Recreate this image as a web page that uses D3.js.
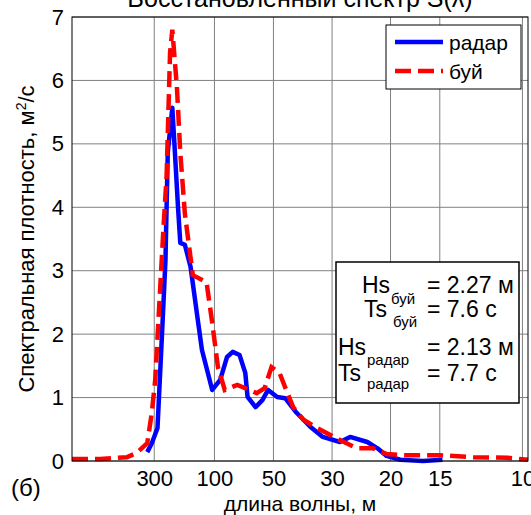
<!DOCTYPE html>
<html>
<head>
<meta charset="utf-8">
<script src="https://cdn.jsdelivr.net/npm/d3@7"></script>
<style>
  body { margin: 0; background: #fff; }
  text { font-family: "Liberation Sans", Arial, sans-serif; fill: #000; }
</style>
</head>
<body>
<div id="chart"></div>
<script>
// Данные (частота, Гц -> спектральная плотность)
const freqBuoy = [0, 0.025, 0.048, 0.057, 0.066, 0.070, 0.073, 0.080, 0.083, 0.086, 0.088, 0.092, 0.095, 0.099,
  0.106, 0.118, 0.123, 0.128, 0.134, 0.145, 0.162, 0.169, 0.175, 0.182, 0.189, 0.194, 0.203, 0.215,
  0.235, 0.250, 0.264, 0.276, 0.290, 0.323, 0.352, 0.382, 0.400];
const specBuoy = [0.03, 0.03, 0.06, 0.13, 0.28, 0.76, 1.28, 3.6, 4.5, 6.43, 6.8, 5.9, 4.86, 3.9,
  2.93, 2.82, 2.18, 1.48, 1.12, 1.2, 1.07, 1.15, 1.48, 1.39, 1.07, 0.85, 0.65, 0.52,
  0.33, 0.2, 0.2, 0.11, 0.09, 0.09, 0.06, 0.05, 0.02];

const freqRadar = [0.066, 0.070, 0.075, 0.079, 0.082, 0.084, 0.088, 0.090, 0.093, 0.095, 0.099, 0.104, 0.110,
  0.114, 0.123, 0.130, 0.136, 0.141, 0.147, 0.152, 0.154, 0.161, 0.167, 0.172, 0.180, 0.187, 0.197,
  0.209, 0.220, 0.235, 0.244, 0.259, 0.268, 0.276, 0.288, 0.308, 0.325];
const specRadar = [0.14, 0.28, 0.52, 2.02, 3.17, 4.86, 5.57, 4.95, 4.0, 3.44, 3.41, 3.06, 2.27,
  1.75, 1.12, 1.28, 1.64, 1.72, 1.67, 1.39, 1.01, 0.85, 0.96, 1.12, 1.01, 0.99, 0.76,
  0.54, 0.38, 0.30, 0.38, 0.30, 0.2, 0.08, 0.02, 0.0, 0.02];

// подписи оси X - длины волн, м
const waveTicks = [300, 100, 50, 30, 20, 15, 10];
const yTicks = [0, 1, 2, 3, 4, 5, 6, 7];

const seriesNames = ["радар", "буй"];
const statsBuoy = { hs: "= 2.27 м", ts: "= 7.6 с" };
const statsRadar = { hs: "= 2.13 м", ts: "= 7.7 с" };

// длина волны -> частота (глубокая вода)
const g = 9.81;
const lambdaToFreq = l => Math.sqrt(g / (2 * Math.PI * l));

const W = 531, H = 515;
const pLeft = 72, pRight = 528, pTop = 17, pBottom = 461;

const x = d3.scaleLinear().domain([0, 0.4]).range([pLeft, pRight]);
const y = d3.scaleLinear().domain([0, 7]).range([pBottom, pTop]);

const svg = d3.select("#chart").append("svg")
  .attr("width", W).attr("height", H);

// сетка
const grid = svg.append("g");
grid.selectAll(".gx").data(waveTicks).enter().append("line")
  .attr("x1", d => x(lambdaToFreq(d))).attr("x2", d => x(lambdaToFreq(d)))
  .attr("y1", pTop).attr("y2", pBottom)
  .style("stroke", "#808080").style("stroke-width", 1);
grid.selectAll(".gy").data(yTicks).enter().append("line")
  .attr("x1", pLeft).attr("x2", pRight)
  .attr("y1", d => y(d)).attr("y2", d => y(d))
  .style("stroke", "#808080").style("stroke-width", 1);

// оси
const xAxis = d3.axisBottom(x)
  .tickValues(waveTicks.map(lambdaToFreq))
  .tickFormat((d, i) => waveTicks[i])
  .tickSize(0).tickPadding(9);
const gx = svg.append("g").attr("transform", `translate(0,${pBottom})`).call(xAxis);
gx.select(".domain").remove();
gx.selectAll("text").style("font-size", "22px");

const yAxis = d3.axisLeft(y).tickValues(yTicks).tickFormat(d3.format("d")).tickSize(0).tickPadding(8);
const gy = svg.append("g").attr("transform", `translate(${pLeft},0)`).call(yAxis);
gy.select(".domain").remove();
gy.selectAll("text").style("font-size", "22px");

// линии
const line = d3.line().x(d => x(d[0])).y(d => y(d[1]));

svg.append("path")
  .datum(d3.zip(freqRadar, specRadar))
  .attr("d", line)
  .style("fill", "none").style("stroke", "#0000ff")
  .style("stroke-width", 4.5).style("stroke-linejoin", "round");

svg.append("path")
  .datum(d3.zip(freqBuoy, specBuoy))
  .attr("d", line)
  .style("fill", "none").style("stroke", "#ff0000")
  .style("stroke-width", 4.5).style("stroke-dasharray", "16,7");

// рамка
svg.append("rect")
  .attr("x", pLeft).attr("y", pTop)
  .attr("width", pRight - pLeft).attr("height", pBottom - pTop)
  .style("fill", "none").style("stroke", "#000").style("stroke-width", 1);

// заголовок (обрезан сверху)
svg.append("text")
  .attr("x", (pLeft + pRight) / 2).attr("y", 7)
  .attr("text-anchor", "middle")
  .style("font-size", "25px")
  .text("Восстановленный спектр S(λ)");

// подписи осей
svg.append("text")
  .attr("x", (pLeft + pRight) / 2).attr("y", 511)
  .attr("text-anchor", "middle")
  .style("font-size", "21px")
  .text("длина волны, м");

const yl = svg.append("text")
  .attr("transform", `translate(34,${(pTop + pBottom) / 2}) rotate(-90)`)
  .attr("text-anchor", "middle")
  .style("font-size", "22px");
yl.append("tspan").text("Спектральная плотность, м");
yl.append("tspan").attr("dy", -8).style("font-size", "14px").text("2");
yl.append("tspan").attr("dy", 8).text("/с");

svg.append("text")
  .attr("x", 11).attr("y", 496)
  .style("font-size", "24px")
  .text("(б)");

// легенда
const legend = svg.append("g");
legend.append("rect")
  .attr("x", 386).attr("y", 25).attr("width", 135).attr("height", 64)
  .style("fill", "#fff").style("stroke", "#000").style("stroke-width", 1);
legend.append("line")
  .attr("x1", 395).attr("x2", 443).attr("y1", 42).attr("y2", 42)
  .style("stroke", "#0000ff").style("stroke-width", 4.5);
legend.append("line")
  .attr("x1", 395).attr("x2", 443).attr("y1", 71).attr("y2", 71)
  .style("stroke", "#ff0000").style("stroke-width", 4.5).style("stroke-dasharray", "16,7");
legend.selectAll(".lt").data(seriesNames).enter().append("text")
  .attr("x", 449).attr("y", (d, i) => 50 + i * 29)
  .style("font-size", "21px")
  .text(d => d);

// блок с параметрами
const box = svg.append("g");
box.append("rect")
  .attr("x", 336).attr("y", 262).attr("width", 183).attr("height", 141)
  .style("fill", "#fff").style("stroke", "#000").style("stroke-width", 1.5);

function statLine(xMain, yBase, name, sub, ySub, value) {
  box.append("text").attr("x", xMain).attr("y", yBase).style("font-size", "23px").text(name);
  box.append("text").attr("x", xMain + 29).attr("y", ySub).style("font-size", "15px").text(sub);
  box.append("text").attr("x", 427).attr("y", yBase).style("font-size", "23px").text(value);
}
statLine(362, 293, "Hs", "буй", 304, statsBuoy.hs);
statLine(364, 317, "Ts", "буй", 327, statsBuoy.ts);
statLine(338, 355, "Hs", "радар", 365, statsRadar.hs);
statLine(338, 381, "Ts", "радар", 389, statsRadar.ts);
</script>
</body>
</html>
